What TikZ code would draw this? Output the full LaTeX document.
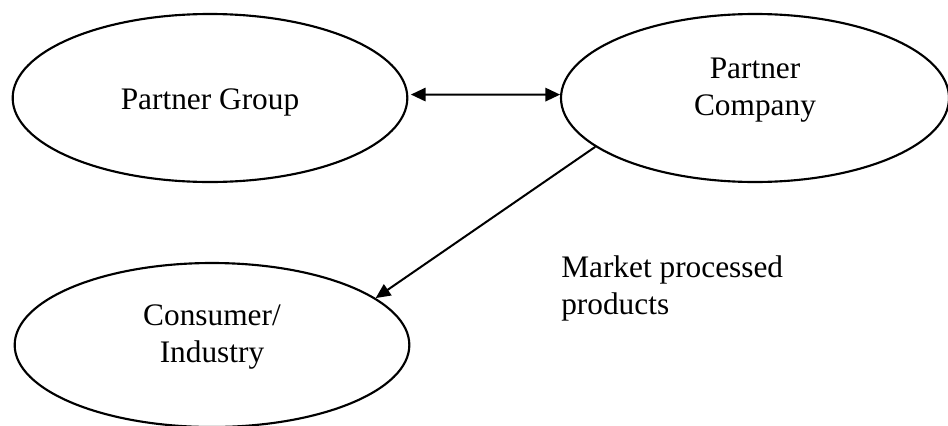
\documentclass[tikz,border=0pt]{standalone}
\usepackage{fontspec}
\setmainfont{Liberation Serif}
\usetikzlibrary{shapes.geometric,arrows.meta}

\begin{document}
\begin{tikzpicture}[x=0.75pt,y=-0.75pt,
  bubble/.style={draw,ellipse,line width=1.6pt,minimum width=296pt,minimum height=126pt,inner sep=0pt},
  words/.style={align=center,inner sep=0pt,font=\fontsize{23.5}{28}\selectfont},
  flow/.style={line width=1.5pt,-{Triangle[length=11pt,width=10pt]}},
  both/.style={line width=1.5pt,{Triangle[length=11pt,width=10pt]}-{Triangle[length=11pt,width=10pt]}}]
  \useasboundingbox (0,0) rectangle (948,425);

  % partners
  \node[bubble,label={[words,yshift=-3pt]center:Partner Group}] (group) at (210,98) {};
  \node[bubble,minimum width=291pt,label={[words,yshift=6pt]center:Partner\\Company}] (company) at (755,98) {};
  % market side
  \node[bubble,minimum height=123pt,label={[words,yshift=6pt]center:Consumer/\\Industry}] (consumer) at (212,345) {};

  \draw[both,shorten <=2pt] (group.1) -- (company.179);
  \draw[flow] (company.197) -- (consumer.16);

  \node[words,anchor=north west,align=left] (market) at (561,255) {Market processed\\products};
\end{tikzpicture}
\end{document}
